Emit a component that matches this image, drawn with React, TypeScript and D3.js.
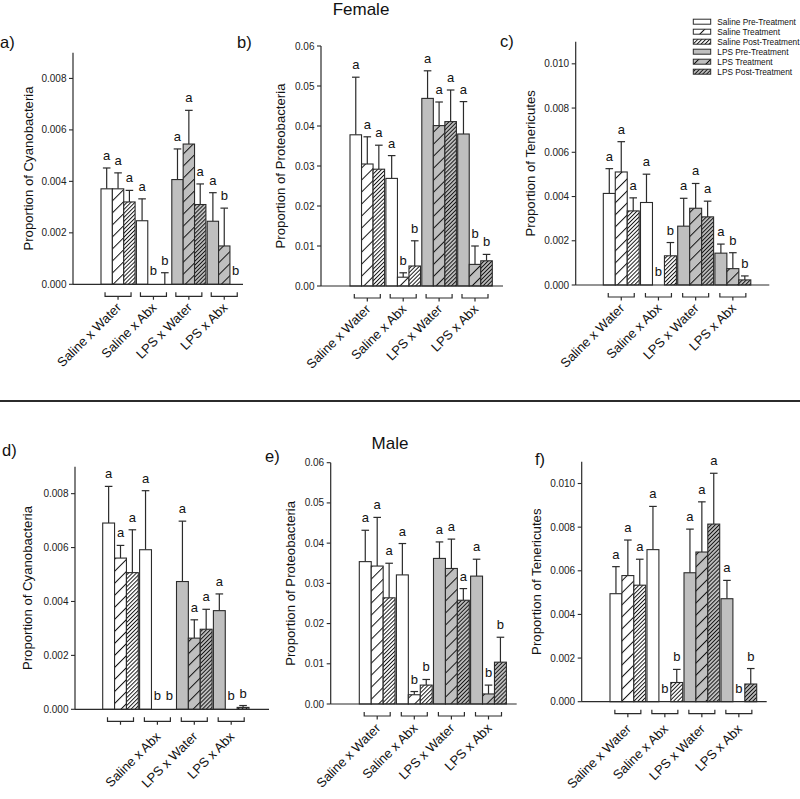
import React from "react";
import * as d3 from "d3";

// ---------- data ----------
const categories = ["Saline x Water", "Saline x Abx", "LPS x Water", "LPS x Abx"];
const timepoints = ["Pre-Treatment", "Treatment", "Post-Treatment"];
const legendLabels = [
  "Saline Pre-Treatment",
  "Saline Treatment",
  "Saline Post-Treatment",
  "LPS Pre-Treatment",
  "LPS Treatment",
  "LPS Post-Treatment",
];
const letters = [["a", "a", "a"], ["a", "b", "b"], ["a", "a", "a"], ["a", "b", "b"]];

// Female Cyanobacteria (a)
const femCyanoMean = [[0.00371, 0.00371, 0.0032], [0.00247, 0, 0], [0.00407, 0.00545, 0.0031], [0.00245, 0.00149, 0]];
const femCyanoErr = [[0.00081, 0.00062, 0.00045], [0.00085, 0, 0.00045], [0.00119, 0.00131, 0.0008], [0.00111, 0.00147, 0]];
// Female Proteobacteria (b)
const femProteoMean = [[0.0378, 0.0305, 0.0292], [0.0269, 0.0022, 0.005], [0.0469, 0.0401, 0.0411], [0.038, 0.0054, 0.0063]];
const femProteoErr = [[0.0144, 0.0068, 0.006], [0.0057, 0.0011, 0.0063], [0.0069, 0.0059, 0.0079], [0.0081, 0.0046, 0.0016]];
// Female Tenericutes (c)
const femTeneMean = [[0.00414, 0.00511, 0.00335], [0.00373, 0, 0.00132], [0.00266, 0.00347, 0.00308], [0.00144, 0.00074, 0.00023]];
const femTeneErr = [[0.00112, 0.00137, 0.00059], [0.00128, 0, 0.0006], [0.00126, 0.00112, 0.00071], [0.00041, 0.00072, 0.00018]];
// Male Cyanobacteria (d)
const maleCyanoMean = [[0.00691, 0.00561, 0.00507], [0.00592, 0, 0], [0.00474, 0.00264, 0.00297], [0.00366, 0, 0.00007]];
const maleCyanoErr = [[0.00136, 0.00047, 0.00159], [0.00219, 0, 0], [0.00224, 0.00068, 0.00074], [0.00062, 0, 0.00007]];
// Male Proteobacteria (e)
const maleProteoMean = [[0.0354, 0.0343, 0.0264], [0.0321, 0.0023, 0.0047], [0.0362, 0.0337, 0.0258], [0.0318, 0.0025, 0.0104]];
const maleProteoErr = [[0.0078, 0.0121, 0.0086], [0.0078, 0.0008, 0.0014], [0.0041, 0.0073, 0.0029], [0.0042, 0.0022, 0.0062]];
// Male Tenericutes (f)
const maleTeneMean = [[0.00495, 0.00578, 0.00534], [0.00697, 0, 0.00088], [0.00591, 0.00686, 0.00814], [0.00472, 0, 0.00081]];
const maleTeneErr = [[0.00124, 0.00163, 0.00119], [0.00198, 0, 0.0006], [0.002, 0.0023, 0.00233], [0.00084, 0, 0.00071]];

const maleCyanoCategoryLabels = ["", "Saline x Abx", "LPS x Water", "LPS x Abx"];

const ticks3 = [0, 0.002, 0.004, 0.006, 0.008];
const ticks2 = [0, 0.01, 0.02, 0.03, 0.04, 0.05, 0.06];
const ticks10 = [0, 0.002, 0.004, 0.006, 0.008, 0.01];

// ---------- layout ----------
const FONT = "'Liberation Sans', Arial, Helvetica, sans-serif";
const INK = "#2b2b2b";
const GRAY = "#bfbfbf";
const GAP = 1.3;

type Cfg = {
  label: string; lx: number; ly: number;
  x: number; top: number; zero: number; xEnd: number; max: number;
  start: number; pitch: number; titleOff: number;
  ticks: number[]; fmt: string; title: string;
  means: number[][]; errs: number[][]; cats: string[]; catDy: number;
};

const panels: Cfg[] = [
  { label: "a)", lx: 0, ly: 48, x: 73, top: 52.7, zero: 284.3, xEnd: 243, max: 0.009, start: 28, pitch: 35.4, titleOff: 45,
    ticks: ticks3, fmt: ".3f", title: "Proportion of Cyanobacteria", means: femCyanoMean, errs: femCyanoErr, cats: categories, catDy: 24 },
  { label: "b)", lx: 237, ly: 48, x: 321, top: 46, zero: 286, xEnd: 503, max: 0.06, start: 29, pitch: 35.9, titleOff: 41,
    ticks: ticks2, fmt: ".2f", title: "Proportion of Proteobacteria", means: femProteoMean, errs: femProteoErr, cats: categories, catDy: 24 },
  { label: "c)", lx: 500, ly: 47, x: 575.7, top: 41.7, zero: 285, xEnd: 769.3, max: 0.011, start: 27.6, pitch: 37.2, titleOff: 45.5,
    ticks: ticks10, fmt: ".3f", title: "Proportion of Tenericutes", means: femTeneMean, errs: femTeneErr, cats: categories, catDy: 24 },
  { label: "d)", lx: 2, ly: 456, x: 75, top: 466.7, zero: 709.3, xEnd: 269, max: 0.009, start: 27.7, pitch: 36.9, titleOff: 47.5,
    ticks: ticks3, fmt: ".3f", title: "Proportion of Cyanobacteria", means: maleCyanoMean, errs: maleCyanoErr, cats: maleCyanoCategoryLabels, catDy: 28 },
  { label: "e)", lx: 265, ly: 462, x: 330.7, top: 462.7, zero: 704, xEnd: 516.7, max: 0.06, start: 28.6, pitch: 37.1, titleOff: 40.7,
    ticks: ticks2, fmt: ".2f", title: "Proportion of Proteobacteria", means: maleProteoMean, errs: maleProteoErr, cats: categories, catDy: 25 },
  { label: "f)", lx: 535, ly: 465, x: 581.7, top: 461.7, zero: 701.7, xEnd: 766.7, max: 0.011, start: 28.3, pitch: 37, titleOff: 45,
    ticks: ticks10, fmt: ".3f", title: "Proportion of Tenericutes", means: maleTeneMean, errs: maleTeneErr, cats: categories, catDy: 28 },
];

function fillId(g: number, t: number) {
  return `fill-${g < 2 ? 0 : 1}-${t}`;
}

function Patterns() {
  const out: JSX.Element[] = [];
  [0, 1].forEach((s) => {
    const bg = s === 0 ? "#ffffff" : GRAY;
    out.push(
      <pattern key={`p${s}1`} id={`fill-${s}-1`} patternUnits="userSpaceOnUse" width={8.5} height={8.5} patternTransform="rotate(45)">
        <rect width={8.5} height={8.5} fill={bg} />
        <line x1={0.5} y1={0} x2={0.5} y2={8.5} stroke="#111" strokeWidth={1} />
      </pattern>
    );
    out.push(
      <pattern key={`p${s}2`} id={`fill-${s}-2`} patternUnits="userSpaceOnUse" width={2.8} height={2.8} patternTransform="rotate(45)">
        <rect width={2.8} height={2.8} fill={bg} />
        <line x1={0.5} y1={0} x2={0.5} y2={2.8} stroke="#111" strokeWidth={0.95} />
      </pattern>
    );
  });
  return <defs>{out}</defs>;
}

function fillFor(g: number, t: number) {
  if (t === 0) return g < 2 ? "#ffffff" : GRAY;
  return `url(#${fillId(g, t)})`;
}

function Panel({ cfg }: { cfg: Cfg }) {
  const y = d3.scaleLinear().domain([0, cfg.max]).range([cfg.zero, cfg.top]);
  const gx = d3
    .scaleBand<string>()
    .domain(categories)
    .range([cfg.x + cfg.start, cfg.x + cfg.start + 4 * cfg.pitch - GAP])
    .paddingInner(GAP / cfg.pitch)
    .paddingOuter(0);
  const tx = d3.scaleBand<string>().domain(timepoints).range([0, gx.bandwidth()]).padding(0);
  const fmt = d3.format(cfg.fmt);
  const bw = tx.bandwidth();
  const bracketY = cfg.zero + 12;
  const bHalf = 13;

  return (
    <g>
      <text x={cfg.lx} y={cfg.ly} fontSize={16.5} fill="#111">{cfg.label}</text>
      <text
        transform={`translate(${cfg.x - cfg.titleOff},${(cfg.top + cfg.zero) / 2}) rotate(-90)`}
        textAnchor="middle"
        dy="0.35em"
        fontSize={13.2}
        fill="#111"
      >
        {cfg.title}
      </text>
      {categories.map((c, g) =>
        timepoints.map((tp, t) => {
          const m = cfg.means[g][t];
          const e = cfg.errs[g][t];
          const x0 = (gx(c) as number) + (tx(tp) as number);
          const cx = x0 + bw / 2;
          const capY = y(m + e);
          const letterY = Math.min(capY, cfg.zero - 1) - 8;
          return (
            <g key={`${g}-${t}`}>
              {e > 0 && (
                <g stroke={INK} strokeWidth={1.2}>
                  <line x1={cx} x2={cx} y1={y(m)} y2={capY} />
                  <line x1={cx - 3.8} x2={cx + 3.8} y1={capY} y2={capY} />
                </g>
              )}
              {m > 0 && (
                <rect x={x0} y={y(m)} width={bw} height={cfg.zero - y(m)} fill={fillFor(g, t)} stroke={INK} strokeWidth={1.1} />
              )}
              <text x={cx} y={letterY} textAnchor="middle" fontSize={13} fill="#111">
                {letters[g][t]}
              </text>
            </g>
          );
        })
      )}
      <line x1={cfg.x} x2={cfg.x} y1={cfg.top} y2={cfg.zero} stroke={INK} strokeWidth={1.2} />
      <line x1={cfg.x} x2={cfg.xEnd} y1={cfg.zero} y2={cfg.zero} stroke={INK} strokeWidth={1.2} />
      {cfg.ticks.map((v) => (
        <g key={v}>
          <line x1={cfg.x - 4} x2={cfg.x} y1={y(v)} y2={y(v)} stroke={INK} strokeWidth={1.1} />
          <text x={cfg.x - 6.5} y={y(v)} dy="0.35em" textAnchor="end" fontSize={10} fill="#222">
            {fmt(v)}
          </text>
        </g>
      ))}
      {categories.map((c, g) => {
        const gc = (gx(c) as number) + gx.bandwidth() / 2;
        return (
          <g key={c}>
            <path
              d={`M${gc - bHalf},${bracketY - 4}V${bracketY}H${gc + bHalf}V${bracketY - 4}M${gc},${bracketY}V${bracketY + 3.5}`}
              fill="none"
              stroke={INK}
              strokeWidth={1.2}
            />
            {cfg.cats[g] && (
              <text
                transform={`translate(${gc + 4},${cfg.zero + cfg.catDy}) rotate(-45)`}
                textAnchor="end"
                fontSize={13}
                fill="#111"
              >
                {cfg.cats[g]}
              </text>
            )}
          </g>
        );
      })}
    </g>
  );
}

function Legend() {
  return (
    <g>
      {legendLabels.map((l, i) => {
        const g = i < 3 ? 0 : 2;
        const t = i % 3;
        const cy = 21.7 + i * 10;
        return (
          <g key={l}>
            <rect x={693.3} y={cy - 2.5} width={17.4} height={5} fill={fillFor(g, t)} stroke={INK} strokeWidth={1} />
            <text x={717.3} y={cy} dy="0.35em" fontSize={8.3} fill="#111">
              {l}
            </text>
          </g>
        );
      })}
    </g>
  );
}

export default function App() {
  return (
    <svg width={800} height={799} style={{ position: "absolute", left: 0, top: 0, background: "#fff" }} fontFamily={FONT}>
      <Patterns />
      <rect width={800} height={799} fill="#fff" />
      <text x={361} y={15} textAnchor="middle" fontSize={17} fill="#111">Female</text>
      <line x1={0} x2={800} y1={401} y2={401} stroke={INK} strokeWidth={2} />
      <text x={390} y={449} textAnchor="middle" fontSize={17} fill="#111">Male</text>
      {panels.map((p) => (
        <Panel key={p.label} cfg={p} />
      ))}
      <Legend />
    </svg>
  );
}
